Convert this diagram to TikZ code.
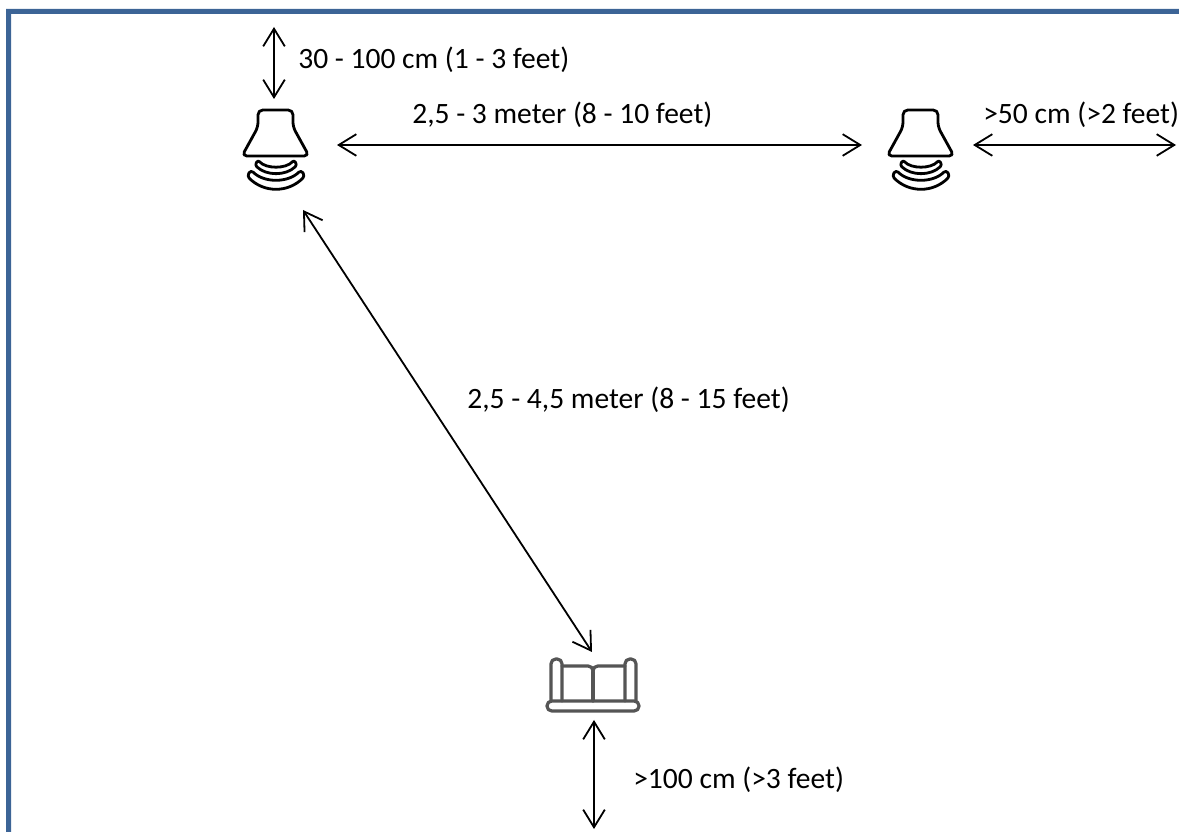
\documentclass[tikz,border=0pt]{standalone}
\usepackage{fontspec}
\setmainfont{Carlito}
\usetikzlibrary{arrows.meta}
\definecolor{frameblue}{RGB}{60,100,150}
\definecolor{sofagray}{RGB}{85,85,85}

\begin{document}
\begin{tikzpicture}[x=0.025cm,y=-0.025cm]
	\tikzstyle{label} = [font=\fontsize{21pt}{24pt}\selectfont, anchor=west, inner sep=0pt]
	\tikzstyle{line} = [draw,{Straight Barb[length=4.4mm,width=5.4mm]}-{Straight Barb[length=4.4mm,width=5.4mm]},line width=0.45mm]
	\tikzstyle{icon} = [draw,line width=0.7mm,line join=round,line cap=round]
	\tikzstyle{sofa} = [draw=sofagray,line width=0.8mm,line join=round,line cap=round]
	\tikzset{lamp/.pic={
		% shade
		\draw[icon,rounded corners=1.2mm] (258,110) -- (293,110) -- (293,127) -- (309,156) -- (242,156) -- (258,127) -- cycle;
		% waves
		\draw[icon,rounded corners=0.6mm] (258,160) .. controls (266,169) and (286,169) .. (294,160) -- (297,165) .. controls (286,176) and (266,176) .. (255,165) -- cycle;
		\draw[icon,rounded corners=0.8mm] (251,170) .. controls (264,183) and (288,183) .. (301,170) -- (305,176) .. controls (288,193) and (264,193) .. (247,176) -- cycle;
	}}
	\useasboundingbox (0,0) rectangle (1179,832);

	% frame, only left and top are visible
	\fill[frameblue] (6,832) -- (6,9) -- (1179,9) -- (1179,14) -- (11,14) -- (11,832) -- cycle;

	% speakers
	\pic at (0,0) {lamp};
	\pic at (645,0) {lamp};

	% couch
	\draw[sofa,rounded corners=1.2mm] (547,701) rectangle (639,711);
	\draw[sofa,rounded corners=1.2mm] (551,701) -- (551,659) -- (562,659) -- (562,701);
	\draw[sofa,rounded corners=1.2mm] (625,701) -- (625,659) -- (636,659) -- (636,701);
	\draw[sofa,rounded corners=1.2mm] (562,666) -- (593,666) -- (593,674);
	\draw[sofa,rounded corners=1.2mm] (625,666) -- (593,666) -- (593,674);
	\draw[sofa] (593,672) -- (593,701);

	% arrow ends
	\coordinate(ceilTop) at (274,27);
	\coordinate(ceilBottom) at (274,99);
	\coordinate(betweenLeft) at (337,145);
	\coordinate(betweenRight) at (862,145);
	\coordinate(wallLeft) at (973,145);
	\coordinate(wallRight) at (1176,145);
	\coordinate(seatLamp) at (303,210);
	\coordinate(seatCouch) at (592,652);
	\coordinate(backTop) at (594,720);
	\coordinate(backBottom) at (594,829);

	\draw[line] (ceilTop) -- (ceilBottom);
	\draw[line] (betweenLeft) -- (betweenRight);
	\draw[line] (wallLeft) -- (wallRight);
	\draw[line] (seatLamp) -- (seatCouch);
	\draw[line] (backTop) -- (backBottom);

	\node(ceilText)[label] at (298,60) {30 - 100 cm (1 - 3 feet)};
	\node(betweenText)[label] at (412,115) {2,5 - 3 meter (8 - 10 feet)};
	\node(wallText)[label] at (983,115) {>50 cm (>2 feet)};
	\node(seatText)[label] at (467,400) {2,5 - 4,5 meter (8 - 15 feet)};
	\node(backText)[label] at (633,780) {>100 cm (>3 feet)};
\end{tikzpicture}
\end{document}
